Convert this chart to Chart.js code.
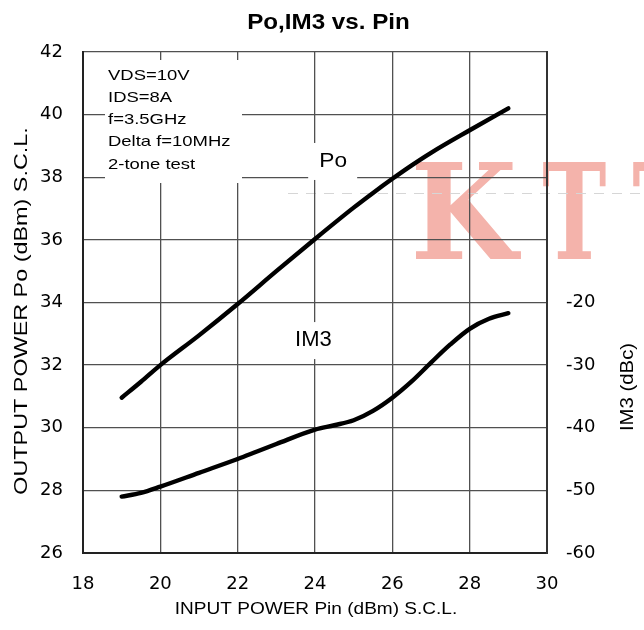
<!DOCTYPE html>
<html><head><meta charset="utf-8">
<script src="https://cdn.jsdelivr.net/npm/chart.js@4.4.0/dist/chart.umd.min.js"></script>
<style>html,body{margin:0;padding:0;background:#fff;}canvas{display:block;}</style>
</head><body>
<canvas id="c" width="644" height="630"></canvas>
<script>
// ---- data ----
const pinPo = [19, 19.5, 20, 21, 22, 23, 24, 25, 25.5, 26, 26.5, 27, 28, 29];
const poValues = [30.96, 31.47, 32.0, 32.95, 33.95, 35.0, 36.03, 37.03, 37.5, 37.95, 38.38, 38.78, 39.5, 40.2];
const pinIm3 = [19, 19.5, 20, 21, 22, 22.5, 23, 24, 24.5, 25, 25.5, 26, 26.5, 27, 27.5, 28, 28.5, 29];
const im3Values = [-51.0, -50.4, -49.4, -47.2, -45.0, -43.8, -42.6, -40.3, -39.6, -38.8, -37.3, -35.2, -32.6, -29.6, -26.7, -24.2, -22.6, -21.7];
const xRange = [18, 30];
const poRange = [26, 42];
const im3Range = [-60, 20];
const im3MaxLabel = -20;
const chartTitle = 'Po,IM3 vs. Pin';
const xTitle = 'INPUT POWER Pin (dBm) S.C.L.';
const yTitle = 'OUTPUT POWER Po (dBm) S.C.L.';
const y2Title = 'IM3 (dBc)';
const conditions = ['VDS=10V', 'IDS=8A', 'f=3.5GHz', 'Delta f=10MHz', '2-tone test'];
const seriesLabels = ['Po', 'IM3'];
const watermarkGlyphs = ['K', 'T', 'T'];

const F = 'Arial, "Liberation Sans", sans-serif';
const WM_FONT = 'bold 130px "DejaVu Serif", "Liberation Serif", serif';

function txt(ctx, s, x, y, font, sx, align, rot) {
  ctx.save();
  ctx.translate(x, y);
  if (rot) ctx.rotate(rot);
  ctx.scale(sx, 1);
  ctx.font = font;
  ctx.textAlign = align;
  ctx.textBaseline = 'middle';
  ctx.fillStyle = '#000';
  ctx.fillText(s, 0, 0);
  ctx.restore();
}

// draw a glyph stretched to fill an ink box
function glyphBox(ctx, ch, left, top, right, bottom) {
  ctx.font = WM_FONT;
  ctx.textAlign = 'left';
  ctx.textBaseline = 'alphabetic';
  const m = ctx.measureText(ch);
  const w = m.actualBoundingBoxLeft + m.actualBoundingBoxRight;
  const h = m.actualBoundingBoxAscent + m.actualBoundingBoxDescent;
  ctx.save();
  ctx.translate(left, top);
  ctx.scale((right - left) / w, (bottom - top) / h);
  ctx.fillText(ch, m.actualBoundingBoxLeft, m.actualBoundingBoxAscent);
  ctx.restore();
}

const deco = {
  id: 'deco',
  beforeDraw(chart) {
    const ctx = chart.ctx;
    ctx.save();
    ctx.fillStyle = '#fff';
    ctx.fillRect(0, 0, chart.width, chart.height);
    ctx.fillStyle = '#f4b3ab';
    glyphBox(ctx, watermarkGlyphs[0], 416, 162, 521, 259);
    glyphBox(ctx, watermarkGlyphs[1], 543, 162, 606, 259);
    glyphBox(ctx, watermarkGlyphs[2], 633, 162, 700, 259);
    ctx.strokeStyle = '#d6d6d6';
    ctx.lineWidth = 1;
    ctx.setLineDash([10, 8]);
    ctx.beginPath();
    ctx.moveTo(288, 193.5);
    ctx.lineTo(644, 193.5);
    ctx.stroke();
    ctx.restore();
  },
  beforeDatasetsDraw(chart) {
    const ctx = chart.ctx;
    const xs = chart.scales.x, ys = chart.scales.y;
    ctx.save();
    ctx.fillStyle = '#fff';
    ctx.fillRect(105, 60, 137, 123);
    const poX = xs.getPixelForValue(24.47), poY = ys.getPixelForValue(38.52);
    const imX = xs.getPixelForValue(23.96), imY = ys.getPixelForValue(32.8);
    ctx.fillRect(poX - 25, poY - 18, 49, 37);
    ctx.fillRect(imX - 23, imY - 18, 47, 37);
    ctx.restore();
    conditions.forEach((s, i) => txt(ctx, s, 108, 75.7 + i * 22.2, '15px ' + F, 1.23, 'left'));
    txt(ctx, seriesLabels[0], poX, poY, '21px ' + F, 1.08, 'center');
    txt(ctx, seriesLabels[1], imX, imY, '22px ' + F, 1.0, 'center');
    txt(ctx, chartTitle, 328.5, 23, 'bold 22px ' + F, 1.1, 'center');
    txt(ctx, xTitle, 316, 610, '16px ' + F, 1.19, 'center');
    txt(ctx, yTitle, 22, 311, '19px ' + F, 1.23, 'center', -Math.PI / 2);
    txt(ctx, y2Title, 628, 387, '18px ' + F, 1.13, 'center', -Math.PI / 2);
  }
};

const gridStyle = { color: '#505050', lineWidth: 1.3, drawTicks: false };
const tickFont = { family: '"DejaVu Sans", sans-serif', size: 18 };

new Chart(document.getElementById('c'), {
  type: 'line',
  data: {
    datasets: [
      {
        label: seriesLabels[0],
        data: pinPo.map((p, i) => ({ x: p, y: poValues[i] })),
        yAxisID: 'y',
        borderColor: '#000', borderWidth: 4.4, pointRadius: 0,
        cubicInterpolationMode: 'monotone', borderCapStyle: 'round', borderJoinStyle: 'round', fill: false
      },
      {
        label: seriesLabels[1],
        data: pinIm3.map((p, i) => ({ x: p, y: im3Values[i] })),
        yAxisID: 'y2',
        borderColor: '#000', borderWidth: 4.4, pointRadius: 0,
        cubicInterpolationMode: 'monotone', borderCapStyle: 'round', borderJoinStyle: 'round', fill: false
      }
    ]
  },
  options: {
    responsive: false,
    animation: false,
    events: [],
    layout: { padding: { top: 52, left: 0, right: 0, bottom: 0 } },
    plugins: { legend: { display: false }, title: { display: false }, tooltip: { enabled: false } },
    scales: {
      x: {
        type: 'linear', min: xRange[0], max: xRange[1],
        afterFit(s) { s.height = 77; },
        grid: gridStyle,
        border: { display: true, color: '#222', width: 2 },
        ticks: { stepSize: 2, padding: 21, color: '#000', font: tickFont, maxRotation: 0 }
      },
      y: {
        type: 'linear', position: 'left', min: poRange[0], max: poRange[1],
        afterFit(s) { s.width = 83; },
        grid: gridStyle,
        border: { display: true, color: '#222', width: 2 },
        ticks: { stepSize: 2, padding: 20, color: '#000', font: tickFont }
      },
      y2: {
        type: 'linear', position: 'right', min: im3Range[0], max: im3Range[1],
        afterFit(s) { s.width = 97; },
        grid: { drawOnChartArea: false, drawTicks: false },
        border: { display: true, color: '#333', width: 2 },
        ticks: { stepSize: 10, padding: 19, color: '#000', font: tickFont,
          callback: v => (v <= im3MaxLabel ? String(v) : '') }
      }
    }
  },
  plugins: [deco]
});
</script>
</body></html>
